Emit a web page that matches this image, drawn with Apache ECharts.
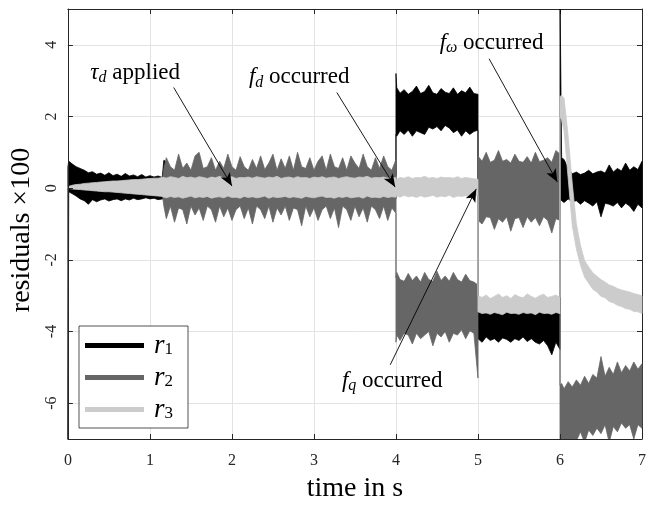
<!DOCTYPE html>
<html>
<head>
<meta charset="utf-8">
<script src="https://cdn.jsdelivr.net/npm/echarts@6/dist/echarts.min.js"></script>
<style>
html, body { margin: 0; padding: 0; background: #ffffff; }
#chart { width: 649px; height: 508px; }
</style>
</head>
<body>
<div id="chart"></div>
<script>
// ---- sample times (s) : segments 0-1.15 | 1.17-4 | 4-5 | 5-6 | 6-7 ----
const time = [
  0, 0.01, 0.05, 0.1, 0.15, 0.2, 0.25, 0.3, 0.35, 0.4,
  0.45, 0.5, 0.55, 0.6, 0.65, 0.7, 0.75, 0.8, 0.85, 0.9,
  0.95, 1, 1.05, 1.1, 1.15,
  1.17, 1.2, 1.25, 1.3, 1.35, 1.4, 1.45, 1.5, 1.55, 1.6,
  1.65, 1.7, 1.75, 1.8, 1.85, 1.9, 1.95, 2, 2.05, 2.1,
  2.15, 2.2, 2.25, 2.3, 2.35, 2.4, 2.45, 2.5, 2.55, 2.6,
  2.65, 2.7, 2.75, 2.8, 2.85, 2.9, 2.95, 3, 3.05, 3.1,
  3.15, 3.2, 3.25, 3.3, 3.35, 3.4, 3.45, 3.5, 3.55, 3.6,
  3.65, 3.7, 3.75, 3.8, 3.85, 3.9, 3.95, 4,
  4, 4.01, 4.05, 4.1, 4.15, 4.2, 4.25, 4.3, 4.35, 4.4,
  4.45, 4.5, 4.55, 4.6, 4.65, 4.7, 4.75, 4.8, 4.85, 4.9,
  4.95, 5,
  5, 5.05, 5.1, 5.15, 5.2, 5.25, 5.3, 5.35, 5.4, 5.45,
  5.5, 5.55, 5.6, 5.65, 5.7, 5.75, 5.8, 5.85, 5.9, 5.95,
  6,
  6, 6.02, 6.05, 6.1, 6.15, 6.2, 6.25, 6.3, 6.35, 6.4,
  6.45, 6.5, 6.55, 6.6, 6.65, 6.7, 6.75, 6.8, 6.85, 6.9,
  6.95, 7
];

// ---- r1 : upper / lower extremes of the noisy residual (x100) ----
const r1Hi = [
  0.6, 0.75, 0.68, 0.6, 0.55, 0.5, 0.43, 0.46, 0.39, 0.42,
  0.36, 0.43, 0.35, 0.39, 0.33, 0.41, 0.34, 0.37, 0.32, 0.38,
  0.31, 0.35, 0.31, 0.34, 0.3,
  0.78, 0.72, 0.45, 0.35, 0.35, 0.35, 0.35, 0.35, 0.35, 0.35,
  0.35, 0.35, 0.35, 0.35, 0.35, 0.35, 0.35, 0.35, 0.35, 0.35,
  0.35, 0.35, 0.35, 0.35, 0.35, 0.35, 0.35, 0.35, 0.35, 0.35,
  0.35, 0.35, 0.35, 0.35, 0.35, 0.35, 0.35, 0.35, 0.35, 0.35,
  0.35, 0.35, 0.35, 0.35, 0.35, 0.35, 0.35, 0.35, 0.35, 0.35,
  0.35, 0.35, 0.35, 0.35, 0.35, 0.35, 0.35, 0.35,
  3.2, 2.8, 2.65, 2.75, 2.62, 2.7, 2.85, 2.64, 2.7, 2.87,
  2.66, 2.62, 2.78, 2.68, 2.64, 2.8, 2.62, 2.72, 2.66, 2.82,
  2.64, 2.62,
  -3.3, -3.45, -3.5, -3.42, -3.48, -3.4, -3.5, -3.44, -3.47, -3.38,
  -3.5, -3.45, -3.42, -3.5, -3.46, -3.4, -3.48, -3.44, -3.5, -3.42,
  -3.45,
  5.5, 0.85, 0.8, 0.55, 0.4, 0.45, 0.38, 0.42, 0.5, 0.4,
  0.45, 0.48, 0.42, 0.65, 0.45, 0.55, 0.48, 0.7, 0.5, 0.6,
  0.52, 0.75
];
const r1Lo = [
  -8, -0.1, -0.15, -0.22, -0.3, -0.35, -0.45, -0.32, -0.38, -0.33,
  -0.3, -0.36, -0.32, -0.3, -0.35, -0.3, -0.33, -0.28, -0.32, -0.3,
  -0.27, -0.3, -0.28, -0.32, -0.3,
  -0.3, -0.3, -0.3, -0.3, -0.3, -0.3, -0.3, -0.3, -0.3, -0.3,
  -0.3, -0.3, -0.3, -0.3, -0.3, -0.3, -0.3, -0.3, -0.3, -0.3,
  -0.3, -0.3, -0.3, -0.3, -0.3, -0.3, -0.3, -0.3, -0.3, -0.3,
  -0.3, -0.3, -0.3, -0.3, -0.3, -0.3, -0.3, -0.3, -0.3, -0.3,
  -0.3, -0.3, -0.3, -0.3, -0.3, -0.3, -0.3, -0.3, -0.3, -0.3,
  -0.3, -0.3, -0.3, -0.3, -0.3, -0.3, -0.3, -0.3,
  1.5, 1.45, 1.6, 1.5, 1.62, 1.45, 1.6, 1.55, 1.5, 1.7,
  1.65, 1.72, 1.6, 1.75, 1.68, 1.55, 1.62, 1.45, 1.6, 1.5,
  1.58, 1.62,
  -4.2, -4.3, -4.15, -4.25, -4.2, -4.3, -4.18, -4.22, -4.3, -4.2,
  -4.25, -4.15, -4.28, -4.2, -4.3, -4.35, -4.25, -4.4, -4.65, -4.3,
  -4.5,
  -0.3, -0.35, -0.4, -0.3, -0.38, -0.35, -0.45, -0.35, -0.42, -0.5,
  -0.38, -0.8, -0.42, -0.45, -0.5, -0.4, -0.55, -0.42, -0.5, -0.65,
  -0.45, -0.55
];

// ---- r2 ----
const r2Hi = [
  0, 0.02, 0.04, 0.05, 0.06, 0.07, 0.08, 0.09, 0.1, 0.1,
  0.11, 0.12, 0.12, 0.13, 0.14, 0.14, 0.15, 0.15, 0.16, 0.17,
  0.17, 0.18, 0.19, 0.2, 0.2,
  0.55, 0.85, 0.6, 0.5, 0.95, 0.55, 0.7, 0.5, 0.9, 1.0,
  0.55, 0.6, 0.85, 0.5, 0.75, 0.55, 0.95, 0.6, 0.5, 0.88,
  0.6, 0.5, 0.8, 0.55, 0.9, 0.52, 0.7, 0.95, 0.5, 0.82,
  0.55, 0.9, 0.5, 1.0, 0.6, 0.55, 0.85, 0.5, 0.75, 0.9,
  0.5, 0.95, 0.6, 0.55, 0.85, 0.5, 0.9, 0.7, 0.55, 0.95,
  0.6, 0.5, 0.85, 0.55, 0.9, 0.6, 0.5, 0.8,
  -2.5, -2.35, -2.55, -2.6, -2.38, -2.58, -2.45, -2.62, -2.35, -2.55,
  -2.6, -2.32, -2.58, -2.45, -2.6, -2.35, -2.55, -2.62, -2.4, -2.58,
  -2.62, -2.7,
  0.9, 0.75, 1.0, 0.72, 0.78, 1.05, 0.75, 0.8, 0.7, 0.95,
  0.75, 0.72, 0.88, 0.7, 1.0, 0.74, 0.78, 0.85, 0.72, 1.05,
  0.95,
  -5.5, -5.45, -5.6, -5.4, -5.55, -5.35, -5.5, -5.25, -5.45, -5.2,
  -5.3, -4.7, -5.25, -5.0, -5.2, -4.85, -5.15, -4.95, -5.1, -4.85,
  -5.05, -4.9
];
const r2Lo = [
  0, -0.01, -0.01, -0.02, -0.02, -0.03, -0.03, -0.04, -0.04, -0.05,
  -0.05, -0.06, -0.06, -0.07, -0.08, -0.08, -0.09, -0.1, -0.1, -0.11,
  -0.12, -0.12, -0.13, -0.14, -0.15,
  -0.5, -0.85, -0.5, -0.95, -0.55, -0.6, -1.0, -0.5, -0.75, -0.55,
  -0.9, -0.5, -0.6, -0.95, -0.5, -0.8, -0.55, -0.9, -0.6, -0.5,
  -0.85, -0.55, -1.0, -0.5, -0.6, -0.85, -0.5, -0.95, -0.55, -0.75,
  -0.5, -0.9, -0.55, -0.6, -1.05, -0.5, -0.8, -0.55, -0.9, -0.6,
  -0.5, -0.85, -0.55, -1.1, -0.5, -0.6, -0.9, -0.5, -0.8, -0.55,
  -0.95, -0.5, -0.6, -0.85, -0.5, -0.9, -0.55, -0.7,
  -4.3, -4.1, -4.25, -4.05, -4.1, -4.35, -4.05, -4.2, -4.1, -4.0,
  -4.4, -4.05, -4.15, -4.0, -4.3, -4.05, -4.1, -3.95, -4.2, -3.98,
  -4.05, -5.3,
  -0.9, -1.0, -0.8, -0.82, -1.15, -0.85, -0.95, -0.8, -1.2, -0.85,
  -0.82, -1.1, -0.8, -0.95, -0.82, -1.05, -0.8, -0.9, -1.25, -0.85,
  -0.9,
  -7.5, -7.3, -7.2, -7.1, -7.0, -7.05, -6.8, -7.1, -6.75, -6.9,
  -6.7, -6.85, -6.6, -7.1, -6.65, -6.8, -6.55, -6.7, -6.6, -7.0,
  -6.6, -6.7
];

// ---- r3 ----
const r3Hi = [
  0.02, 0.05, 0.08, 0.1, 0.11, 0.13, 0.14, 0.15, 0.16, 0.17,
  0.18, 0.19, 0.2, 0.2, 0.21, 0.22, 0.23, 0.24, 0.24, 0.25,
  0.26, 0.27, 0.28, 0.28, 0.3,
  0.3, 0.28, 0.32, 0.3, 0.27, 0.33, 0.29, 0.31, 0.28, 0.32,
  0.3, 0.27, 0.31, 0.29, 0.33, 0.28, 0.3, 0.32, 0.27, 0.3,
  0.29, 0.31, 0.28, 0.32, 0.3, 0.28, 0.31, 0.29, 0.33, 0.27,
  0.3, 0.31, 0.28, 0.32, 0.29, 0.3, 0.27, 0.31, 0.29, 0.32,
  0.28, 0.3, 0.31, 0.27, 0.3, 0.32, 0.29, 0.28, 0.31, 0.3,
  0.33, 0.28, 0.3, 0.29, 0.31, 0.28, 0.3, 0.29,
  0.2, 0.25, 0.3, 0.28, 0.32, 0.27, 0.3, 0.29, 0.33, 0.28,
  0.3, 0.27, 0.31, 0.29, 0.3, 0.28, 0.32, 0.27, 0.3, 0.28,
  0.26, 0.25,
  -3.0, -3.05, -2.98, -3.08, -3.02, -2.95, -3.05, -3.0, -3.08, -2.97,
  -3.03, -3.06, -2.95, -3.02, -3.07, -3.0, -2.96, -3.05, -3.02, -2.98,
  -3.05,
  2.55, 2.6, 2.5, 1.45, 0.12, -1.0, -1.6, -2.02, -2.2, -2.36,
  -2.46, -2.55, -2.62, -2.7, -2.74, -2.8, -2.84, -2.87, -2.9, -2.94,
  -2.97, -3.0
];
const r3Lo = [
  0, -0.01, -0.02, -0.03, -0.04, -0.05, -0.06, -0.07, -0.08, -0.09,
  -0.1, -0.1, -0.11, -0.12, -0.13, -0.14, -0.15, -0.16, -0.17, -0.18,
  -0.19, -0.2, -0.21, -0.22, -0.23,
  -0.25, -0.27, -0.23, -0.26, -0.24, -0.28, -0.25, -0.22, -0.27, -0.24,
  -0.26, -0.23, -0.28, -0.25, -0.24, -0.27, -0.22, -0.26, -0.25, -0.28,
  -0.23, -0.26, -0.24, -0.27, -0.25, -0.22, -0.28, -0.24, -0.26, -0.25,
  -0.23, -0.27, -0.24, -0.26, -0.28, -0.23, -0.25, -0.27, -0.24, -0.22,
  -0.26, -0.25, -0.28, -0.24, -0.26, -0.23, -0.27, -0.25, -0.24, -0.28,
  -0.22, -0.26, -0.25, -0.27, -0.23, -0.26, -0.24, -0.25,
  -0.2, -0.22, -0.25, -0.2, -0.24, -0.22, -0.26, -0.21, -0.25, -0.23,
  -0.2, -0.25, -0.22, -0.24, -0.2, -0.26, -0.22, -0.23, -0.21, -0.25,
  -0.22, -0.2,
  -3.45, -3.5, -3.48, -3.52, -3.47, -3.5, -3.53, -3.46, -3.5, -3.49,
  -3.52, -3.47, -3.5, -3.48, -3.53, -3.46, -3.5, -3.49, -3.52, -3.47,
  -3.5,
  2.0, 1.9, 1.6, 0.27, -1.05, -1.7, -2.15, -2.48, -2.65, -2.82,
  -2.9, -3.02, -3.06, -3.16, -3.2, -3.27, -3.3, -3.36, -3.38, -3.44,
  -3.45, -3.5
];

const seriesNames = ['r1', 'r2', 'r3'];
const xTicks = [0, 1, 2, 3, 4, 5, 6, 7];

// annotations: text, text anchor, arrow tail, arrow head (data units)
const noteTexts = ['{m|τ}{s|d} applied', '{m|f}{s|d} occurred', '{m|f}{s|ω} occurred', '{m|f}{s|q} occurred'];
const noteAt    = [[0.82, 3.22], [2.82, 3.09], [5.166, 4.06], [3.954, -5.38]];
const noteTail  = [[1.29, 2.81], [3.279, 2.67], [5.136, 3.61], [3.93, -4.93]];
const noteHead  = [[2.0, 0.06], [3.99, 0.03], [5.968, 0.17], [4.979, -0.02]];

const bands = [[r1Hi, r1Lo], [r2Hi, r2Lo], [r3Hi, r3Lo]];
bands.forEach(function (b, k) {
  if (b[0].length !== time.length || b[1].length !== time.length) {
    throw new Error('length mismatch in ' + seriesNames[k] + ': ' + b[0].length + '/' + b[1].length + ' vs ' + time.length);
  }
});

const FONT = "'Liberation Serif', 'DejaVu Serif', serif";
const AX = '#262626';
const colors = ['#000000', '#666666', '#cccccc'];

// the noisy trace is drawn as the region between its upper and lower extremes
function makeBand(hi, lo) {
  return function (params, api) {
    const c = api.visual('color');
    const pts = [];
    for (let i = 0; i < time.length; i++) pts.push(api.coord([time[i], hi[i]]));
    for (let i = time.length - 1; i >= 0; i--) pts.push(api.coord([time[i], lo[i]]));
    return {
      type: 'polygon',
      shape: { points: pts },
      style: { fill: c, stroke: c, lineWidth: 0.8 }
    };
  };
}

const chart = echarts.init(document.getElementById('chart'), null, { renderer: 'canvas' });

const series = bands.map(function (b, k) {
  return {
    name: seriesNames[k],
    type: 'custom',
    clip: true,
    silent: true,
    z: 2 + k,
    itemStyle: { color: colors[k] },
    data: [[0, 0]],
    renderItem: makeBand(b[0], b[1])
  };
});

const subRich = {
  m: { fontStyle: 'italic', fontSize: 23, fontFamily: FONT, lineHeight: 26, color: '#000' },
  s: { fontStyle: 'italic', fontSize: 16, fontFamily: FONT, verticalAlign: 'bottom', lineHeight: 14, color: '#000' }
};

series.push({
  name: 'notes',
  type: 'line',
  data: [],
  silent: true,
  z: 10,
  markLine: {
    silent: true,
    animation: false,
    symbol: ['none', 'arrow'],
    symbolSize: [8, 13],
    lineStyle: { color: '#000', width: 0.9, type: 'solid' },
    label: { show: false },
    emphasis: { disabled: true },
    data: noteTail.map(function (t, i) { return [{ coord: t }, { coord: noteHead[i] }]; })
  },
  markPoint: {
    silent: true,
    animation: false,
    symbol: 'circle',
    symbolSize: 1,
    itemStyle: { color: 'rgba(0,0,0,0)' },
    label: {
      show: true,
      position: 'inside',
      fontFamily: FONT,
      fontSize: 23,
      lineHeight: 26,
      color: '#000',
      rich: subRich
    },
    data: noteAt.map(function (p, i) {
      return { coord: p, value: 0, label: { formatter: noteTexts[i] } };
    })
  }
});

const tickStyle = { show: true, inside: true, length: 5, lineStyle: { color: AX, width: 1 } };
const lineStyle = { show: true, onZero: false, lineStyle: { color: AX, width: 1 } };
const gridLine = { show: true, lineStyle: { color: '#e3e3e3', width: 1 } };

const option = {
  animation: false,
  backgroundColor: '#ffffff',
  grid: { left: 66, top: 9, right: 2.3, bottom: 66.5, containLabel: false },
  legend: {
    left: 79,
    top: 326,
    orient: 'vertical',
    data: seriesNames.map(function (n, k) {
      return { name: n, icon: 'rect', itemStyle: { color: colors[k] } };
    }),
    itemWidth: 59,
    itemHeight: 5,
    itemGap: 5,
    padding: [6, 15, 5, 6],
    backgroundColor: '#ffffff',
    borderColor: AX,
    borderWidth: 0.8,
    borderRadius: 0,
    selectedMode: false,
    z: 30,
    formatter: function (name) { return '{r|r}{s|' + name.slice(1) + '}'; },
    textStyle: {
      fontFamily: FONT,
      color: '#000',
      rich: {
        r: { fontStyle: 'italic', fontSize: 27, fontFamily: FONT, lineHeight: 26, padding: [0, 0, 0, 5], color: '#000' },
        s: { fontSize: 17, fontFamily: FONT, verticalAlign: 'bottom', lineHeight: 16, color: '#000' }
      }
    }
  },
  xAxis: [
    {
      type: 'value',
      min: xTicks[0],
      max: xTicks[xTicks.length - 1],
      interval: 1,
      position: 'bottom',
      name: 'time in s',
      nameLocation: 'middle',
      nameGap: 36,
      nameTextStyle: { fontFamily: FONT, fontSize: 28, color: '#000' },
      axisLine: lineStyle,
      axisTick: tickStyle,
      axisLabel: { fontFamily: FONT, fontSize: 16, color: AX, margin: 14 },
      splitLine: { show: false },
      z: 20
    },
    {
      type: 'value',
      min: xTicks[0],
      max: xTicks[xTicks.length - 1],
      interval: 1,
      position: 'top',
      axisLine: lineStyle,
      axisTick: tickStyle,
      axisLabel: { show: false },
      splitLine: gridLine
    }
  ],
  yAxis: [
    {
      type: 'value',
      min: -7,
      max: 5,
      splitNumber: 6,
      position: 'left',
      name: 'residuals ×100',
      nameLocation: 'middle',
      nameGap: 30,
      nameTextStyle: { fontFamily: FONT, fontSize: 28, color: '#000', padding: [0, 12, 0, 0] },
      axisLine: lineStyle,
      axisTick: tickStyle,
      axisLabel: { fontFamily: FONT, fontSize: 16, color: AX, rotate: 90, margin: 8, showMinLabel: false, showMaxLabel: false },
      splitLine: { show: false },
      z: 20
    },
    {
      type: 'value',
      min: -7,
      max: 5,
      splitNumber: 6,
      position: 'right',
      axisLine: lineStyle,
      axisTick: tickStyle,
      axisLabel: { show: false },
      splitLine: gridLine
    }
  ],
  series: series
};

chart.setOption(option);
</script>
</body>
</html>
